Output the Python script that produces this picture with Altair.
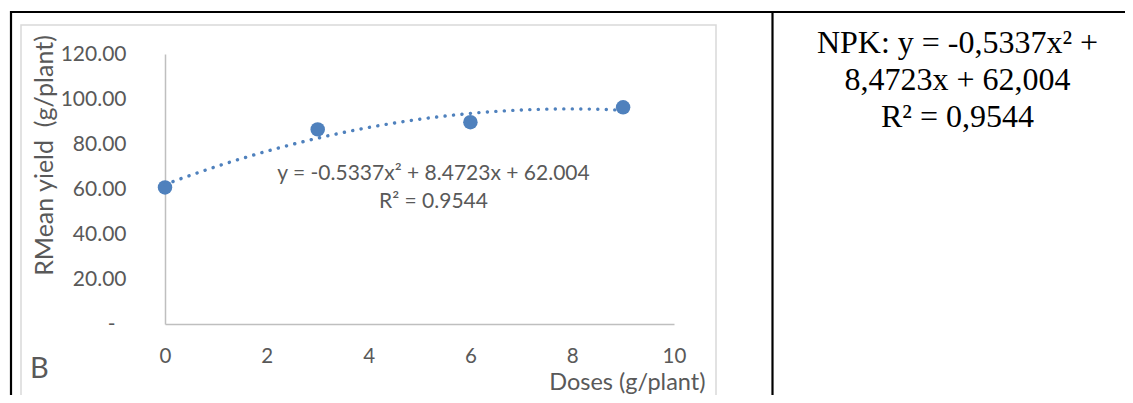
import altair as alt
import pandas as pd

# ---- data ----
doses = [0, 3, 6, 9]
mean_yield = [60.7, 86.5, 89.7, 96.3]
y_ticks = [0, 20, 40, 60, 80, 100, 120]
x_ticks = [0, 2, 4, 6, 8, 10]
eq_lines = ["y = -0.5337x² + 8.4723x + 62.004", "R² = 0.9544"]
npk_lines = ["NPK: y = -0,5337x² +", "8,4723x + 62,004", "R² = 0,9544"]
x_title = "Doses (g/plant)"
y_title = "RMean yield\u00a0\u00a0(g/plant)"
panel_letter = "B"

BLUE = "#4f81bd"
GREY_TXT = "#595959"

df = pd.DataFrame({"dose": doses, "yield": mean_yield})
one = pd.DataFrame({"k": [0]})

W, H = 509, 270

xs = alt.Scale(domain=[0, 10], nice=False, zero=False)
ys = alt.Scale(domain=[0, 120], nice=False)

x_axis = alt.Axis(
    values=x_ticks, grid=False, ticks=False, tickSize=0, labelFlush=False,
    labelFont="Lato", labelFontSize=20.5, labelColor=GREY_TXT, labelPadding=22,
    labelBaseline="top",
    domainColor="#bfbfbf", domainWidth=1.5,
    title=x_title, titleFont="Lato", titleFontSize=23.5, titleFontWeight="normal",
    titleColor=GREY_TXT, titleX=540, titleY=65, titleAlign="right",
    titleBaseline="alphabetic", titleAnchor="end",
)
y_axis = alt.Axis(
    values=y_ticks, grid=False, ticks=False, tickSize=0, labelFlush=False,
    labelFont="Lato", labelFontSize=21, labelColor=GREY_TXT,
    labelPadding={"condition": {"test": "datum.value == 0", "value": 50}, "value": 39},
    labelExpr="datum.value == 0 ? '-' : format(datum.value, '.2f')",
    domainColor="#bfbfbf", domainWidth=1.5,
    title=y_title, titleFont="Lato", titleFontSize=25, titleFontWeight="normal",
    titleColor=GREY_TXT, titleAngle=270, titleX=-113, titleY=101,
    titleAlign="center", titleBaseline="alphabetic",
)

points = alt.Chart(df).mark_circle(size=210, color=BLUE, opacity=1).encode(
    x=alt.X("dose:Q", scale=xs, axis=x_axis),
    y=alt.Y("yield:Q", scale=ys, axis=y_axis),
)

trend = (
    alt.Chart(df)
    .transform_regression("dose", "yield", method="poly", order=2, extent=[0, 9])
    .mark_line(color=BLUE, strokeWidth=3.4, strokeDash=[0.1, 8.4], strokeCap="round")
    .encode(x=alt.X("dose:Q", scale=xs), y=alt.Y("yield:Q", scale=ys))
)

# ---- page decorations (table borders, chart frame) ----
frame = alt.Chart(one).mark_rect(fillOpacity=0, stroke="#d9d9d9", strokeWidth=1.5).encode(
    x=alt.value(-144), x2=alt.value(551), y=alt.value(-29), y2=alt.value(344)
)
top_border = alt.Chart(one).mark_rule(color="black", strokeWidth=2.2).encode(
    x=alt.value(-155), x2=alt.value(1000), y=alt.value(-42)
)
left_border = alt.Chart(one).mark_rule(color="black", strokeWidth=2.2).encode(
    x=alt.value(-154), y=alt.value(-43), y2=alt.value(360)
)
divider = alt.Chart(one).mark_rule(color="black", strokeWidth=2.2).encode(
    x=alt.value(607.5), y=alt.value(-43), y2=alt.value(360)
)

letter = alt.Chart(one).mark_text(
    font="Lato", fontSize=29, color=GREY_TXT, align="left", baseline="alphabetic"
).encode(x=alt.value(-135), y=alt.value(324), text=alt.value(panel_letter))

equation = alt.Chart(one).mark_text(
    font="Lato", fontSize=21, color=GREY_TXT, align="center", baseline="alphabetic",
    lineHeight=28,
).encode(x=alt.value(268.5), y=alt.value(126), text=alt.value(eq_lines))

npk = alt.Chart(one).mark_text(
    font="Liberation Serif", fontSize=32, color="black", align="center",
    baseline="alphabetic", lineHeight=37,
).encode(x=alt.value(792.5), y=alt.value(-1), text=alt.value(npk_lines))

chart = (
    alt.layer(frame, top_border, left_border, divider, points, trend, letter, equation, npk)
    .properties(
        width=W, height=H,
        padding={"left": 157, "top": 46, "right": 451, "bottom": 71},
        autosize=alt.AutoSizeParams(type="none"),
        background="white",
    )
    .configure_view(strokeWidth=0)
)

chart.save("out.html", embed_options={"renderer": "svg", "actions": False})
